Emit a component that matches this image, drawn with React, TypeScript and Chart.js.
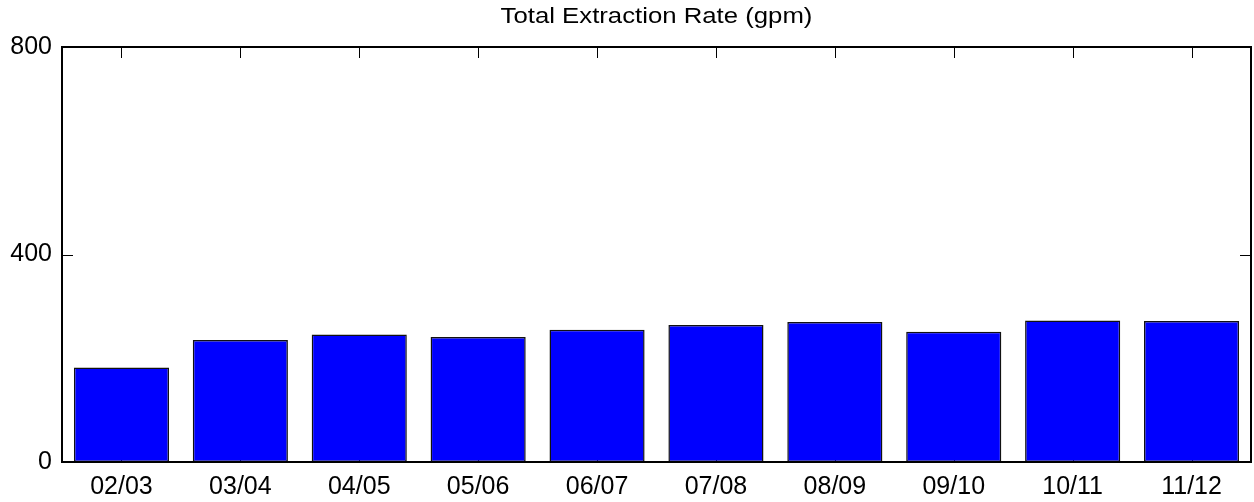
import React, { useEffect, useRef } from "react";
import { Chart, registerables } from "chart.js";

Chart.register(...registerables);

const categories = ["02/03", "03/04", "04/05", "05/06", "06/07", "07/08", "08/09", "09/10", "10/11", "11/12"];
const extractionRate = [182, 235, 246, 241, 255, 264, 270, 251, 273, 272];
const yTicks = [0, 400, 800];
const titleText = "Total Extraction Rate (gpm)";

const FONT = "'Liberation Sans', Arial, Helvetica, sans-serif";
const TICK_LEN = 11;

const framePlugin = {
  id: "matlabFrame",
  beforeDatasetsDraw(chart: any) {
    const { ctx, chartArea: a, scales } = chart;
    ctx.save();
    ctx.strokeStyle = "#000";
    ctx.lineWidth = 1;
    ctx.beginPath();
    categories.forEach((_, i) => {
      const x = Math.round(scales.x.getPixelForValue(i)) + 0.5;
      ctx.moveTo(x, a.top);
      ctx.lineTo(x, a.top + TICK_LEN);
      ctx.moveTo(x, a.bottom);
      ctx.lineTo(x, a.bottom - TICK_LEN);
    });
    yTicks.forEach((v) => {
      const y = Math.round(scales.y.getPixelForValue(v)) + 0.5;
      ctx.moveTo(a.left, y);
      ctx.lineTo(a.left + TICK_LEN, y);
      ctx.moveTo(a.right, y);
      ctx.lineTo(a.right - TICK_LEN, y);
    });
    ctx.stroke();
    ctx.restore();
  },
  afterDatasetsDraw(chart: any) {
    const { ctx, chartArea: a } = chart;
    ctx.save();
    ctx.strokeStyle = "#000";
    ctx.lineWidth = 2;
    ctx.strokeRect(a.left, a.top, a.right - a.left, a.bottom - a.top);
    ctx.restore();
  },
  afterDraw(chart: any) {
    const { ctx, chartArea: a } = chart;
    ctx.save();
    ctx.fillStyle = "#000";
    ctx.font = `22px ${FONT}`;
    ctx.textAlign = "center";
    ctx.textBaseline = "alphabetic";
    const cx = (a.left + a.right) / 2;
    ctx.translate(cx, 23);
    ctx.scale(1.17, 1);
    ctx.fillText(titleText, 0, 0);
    ctx.restore();
  },
};

export default function App() {
  const ref = useRef<HTMLCanvasElement | null>(null);

  useEffect(() => {
    if (!ref.current) return;
    const chart = new Chart(ref.current, {
      type: "bar",
      data: {
        labels: categories,
        datasets: [
          {
            label: titleText,
            data: extractionRate,
            backgroundColor: "#0000FF",
            borderColor: "#111111",
            borderWidth: 1.5,
            borderSkipped: false,
            barPercentage: 0.8,
            categoryPercentage: 1.0,
          },
        ],
      },
      options: {
        responsive: false,
        animation: false,
        layout: { padding: { top: 47, right: 3, left: 0, bottom: 0 } },
        plugins: {
          legend: { display: false },
          title: { display: false },
          tooltip: { enabled: false },
        },
        scales: {
          x: {
            offset: true,
            grid: { display: false, drawTicks: false, tickLength: 0 },
            border: { display: false },
            ticks: {
              color: "#000",
              font: { family: FONT, size: 25 },
              padding: 10,
              maxRotation: 0,
              autoSkip: false,
            },
            afterFit: (s: any) => {
              s.height = 40;
            },
          },
          y: {
            min: 0,
            max: 800,
            grid: { display: false, drawTicks: false, tickLength: 0 },
            border: { display: false },
            afterBuildTicks: (s: any) => {
              s.ticks = yTicks.map((v) => ({ value: v }));
            },
            ticks: {
              color: "#000",
              font: { family: FONT, size: 25 },
              padding: 10,
            },
            afterFit: (s: any) => {
              s.width = 62;
            },
          },
        },
      },
      plugins: [framePlugin],
    });
    return () => chart.destroy();
  }, []);

  return (
    <div style={{ position: "absolute", left: 0, top: 0, width: 1254, height: 502, background: "#fff" }}>
      <canvas ref={ref} width={1254} height={502} style={{ display: "block" }} />
    </div>
  );
}
